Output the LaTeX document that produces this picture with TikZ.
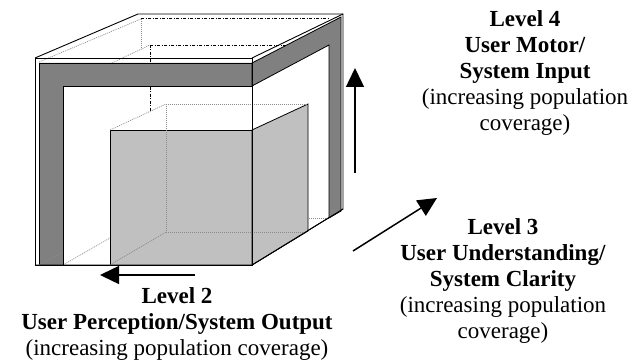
\documentclass[tikz,border=0pt]{standalone}
\usepackage{fontspec}
\setmainfont{Liberation Serif}
\usetikzlibrary{arrows.meta}
\definecolor{barDark}{HTML}{808080}
\definecolor{boxLight}{HTML}{C0C0C0}
\begin{document}
\begin{tikzpicture}[x=1pt,y=-1pt,
  edge/.style={draw=black, line width=0.9pt, line join=miter},
  hid/.style={draw=black!45, line width=0.7pt, dash pattern=on 1pt off 1pt},
  dashdot/.style={draw=black, line width=0.7pt, dash pattern=on 3pt off 1.5pt on 1pt off 1.5pt},
  darkbar/.style={fill=barDark, draw=black, line width=0.8pt},
  lightface/.style={fill=boxLight, draw=black, line width=0.8pt},
  arrowline/.style={draw=black, line width=1.5pt, -{Triangle[length=19pt,width=18pt]}},
  lvltext/.style={align=center, inner sep=0pt, anchor=north, font=\fontsize{23}{26}\selectfont}]
\useasboundingbox (0,0) rectangle (640,363);
\fill[white] (0,0) rectangle (640,363);

% hidden back edges
\draw[hid] (39,62) -- (141,19);
\draw[hid] (141,19) -- (141,49);
\draw[dashdot] (141,18) -- (330,18);
\draw[hid] (63,86) -- (150,45);
\draw[dashdot] (150,45) -- (329,45);
\draw[dashdot] (150,45) -- (150,111);
\draw[hid] (309,218) -- (329,218);
\draw[hid] (63,265) -- (110,238);

% outer box outline
\draw[edge] (35,58) -- (138,14) -- (343,14) -- (343,209) -- (252,265);
\draw[edge] (252,58) -- (343,14);
\draw[edge] (35,58) rectangle (252,265);

% dark frame bars
\draw[darkbar] (39,63) -- (252,63) -- (252,86) -- (63,86) -- (63,265) -- (39,265) -- cycle;
\draw[darkbar] (252,63) -- (341,17) -- (341,211) -- (329,218) -- (329,45) -- (252,86) -- cycle;

% inner cube
\draw[lightface] (110,130) rectangle (252,265);
\draw[lightface] (252,130) -- (308,104) -- (308,231) -- (252,265) -- cycle;
\draw[hid] (110,130) -- (166,104);
\draw[hid] (166,104) -- (308,104);
\draw[hid] (166,104) -- (166,232) -- (308,232);
\draw[hid] (166,232) -- (110,265);
\draw[hid] (39,265) -- (63,252);

% re-draw front edges
\draw[edge] (35,265) -- (252,265) -- (343,209);
\draw[edge] (252,58) -- (252,265);

% arrows
\coordinate (a2s) at (195,275);
\coordinate (a2e) at (100,275);
\coordinate (a4s) at (355,173);
\coordinate (a4e) at (355,68);
\coordinate (a3s) at (353,251);
\coordinate (a3e) at (437,198);
\draw[arrowline] (a2s) -- (a2e);
\draw[arrowline] (a4s) -- (a4e);
\draw[arrowline] (a3s) -- (a3e);

% labels
\node[lvltext] (lv4) at (525,10) {\textbf{Level 4}\\\textbf{User Motor/}\\\textbf{System Input}\\(increasing population\\coverage)};
\node[lvltext] (lv3) at (503,218) {\textbf{Level 3}\\\textbf{User Understanding/}\\\textbf{System Clarity}\\(increasing population\\coverage)};
\node[lvltext] (lv2) at (177,287) {\textbf{Level 2}\\\textbf{User Perception/System Output}\\(increasing population coverage)};
\end{tikzpicture}
\end{document}
